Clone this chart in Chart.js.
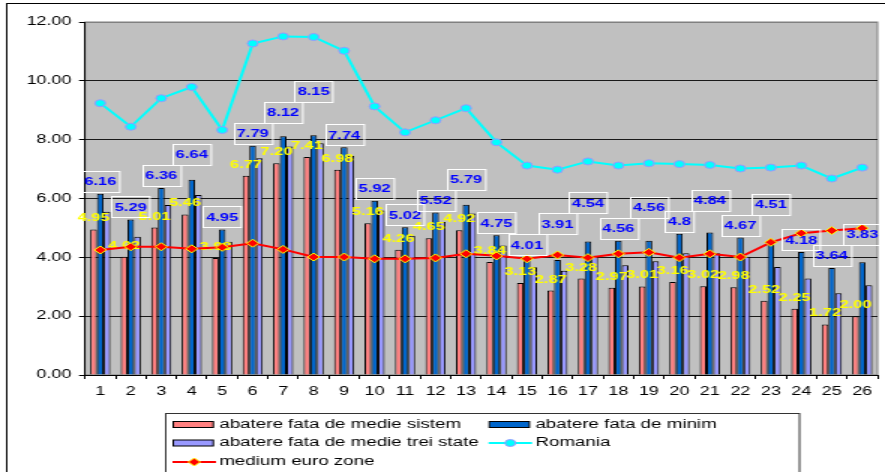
<!DOCTYPE html>
<html>
<head>
<meta charset="utf-8">
<script src="https://cdn.jsdelivr.net/npm/chart.js@4.4.0/dist/chart.umd.min.js"></script>
<style>
  html, body { margin: 0; padding: 0; background: #fff; overflow: hidden; }
  /* the original picture is stretched sideways, so draw narrow and stretch */
  #wrap { width: 590px; height: 472px; transform: scaleX(1.5); transform-origin: 0 0; }
</style>
</head>
<body>
<div id="wrap"><canvas id="chart" width="590" height="472"></canvas></div>
<script>
// Data
const categories = ['1','2','3','4','5','6','7','8','9','10','11','12','13','14','15','16','17','18','19','20','21','22','23','24','25','26'];
const sistem = [4.95, 4.02, 5.01, 5.46, 3.98, 6.77, 7.20, 7.41, 6.98, 5.16, 4.26, 4.65, 4.92, 3.84, 3.13, 2.87, 3.28, 2.97, 3.01, 3.16, 3.02, 2.98, 2.52, 2.25, 1.72, 2.00];
const minim = [6.16, 5.29, 6.36, 6.64, 4.95, 7.79, 8.12, 8.15, 7.74, 5.92, 5.02, 5.52, 5.79, 4.75, 4.01, 3.91, 4.54, 4.56, 4.56, 4.8, 4.84, 4.67, 4.51, 4.18, 3.64, 3.83];
const treiState = [5.55, 4.70, 5.78, 6.12, 4.53, 7.37, 7.77, 7.88, 7.45, 5.59, 4.73, 5.20, 5.49, 4.40, 3.66, 3.54, 4.05, 3.73, 3.87, 4.14, 4.14, 4.02, 3.67, 3.28, 2.78, 3.05];
const romania = [9.24, 8.44, 9.41, 9.79, 8.33, 11.27, 11.51, 11.49, 11.02, 9.13, 8.25, 8.66, 9.07, 7.91, 7.12, 6.98, 7.26, 7.12, 7.20, 7.17, 7.14, 7.02, 7.05, 7.12, 6.68, 7.05];
const euroZone = [4.25, 4.36, 4.36, 4.29, 4.34, 4.48, 4.27, 4.01, 4.01, 3.95, 3.95, 3.98, 4.12, 4.05, 3.95, 4.08, 3.99, 4.12, 4.17, 3.99, 4.12, 4.01, 4.51, 4.82, 4.91, 4.99];
const yTickLabels = ['0.00', '2.00', '4.00', '6.00', '8.00', '10.00', '12.00'];

const FONT = '"Liberation Sans", Arial, sans-serif';

// gray plot area + outer frame
const plotFrame = {
    id: 'plotFrame',
    beforeDraw(chart) {
        const { ctx, chartArea: a } = chart;
        ctx.save();
        ctx.strokeStyle = '#000';
        ctx.lineWidth = 1;
        ctx.strokeRect(4.5, 3.5, 700, 700);
        ctx.fillStyle = '#c0c0c0';
        ctx.fillRect(a.left, a.top, a.right - a.left, a.bottom - a.top);
        ctx.strokeStyle = '#808080';
        ctx.strokeRect(a.left, a.top, a.right - a.left, a.bottom - a.top);
        ctx.restore();
    }
};

// value labels: yellow over the first bars, boxed blue over the second bars
const valueLabels = {
    id: 'valueLabels',
    afterDatasetDraw(chart, args) {
        if (args.index !== 0) return; // bars are done, lines still to come
        const ctx = chart.ctx;
        ctx.save();
        ctx.font = 'bold 11px ' + FONT;
        ctx.fillStyle = '#ffff00';
        ctx.textAlign = 'center';
        ctx.textBaseline = 'alphabetic';
        chart.getDatasetMeta(0).data.forEach((bar, i) => {
            ctx.fillText(sistem[i].toFixed(2), bar.x, bar.y - 8);
        });
        ctx.restore();
    },
    afterDatasetsDraw(chart) {
        const ctx = chart.ctx;
        ctx.save();
        ctx.font = 'bold 11px ' + FONT;
        ctx.textAlign = 'center';
        ctx.textBaseline = 'middle';
        const h = 21;
        let prevTop = null, prevBottom = null;
        chart.getDatasetMeta(1).data.forEach((bar, i) => {
            const txt = String(minim[i]);
            const w = ctx.measureText(txt).width + 4;
            let bottom = bar.y - 2;
            // lift the box when it runs too far into the previous one
            if (prevTop !== null) {
                const overlap = Math.min(bottom, prevBottom) - Math.max(bottom - h, prevTop);
                if (overlap > 8) bottom = prevTop;
            }
            const top = bottom - h;
            ctx.strokeStyle = '#ffffff';
            ctx.lineWidth = 1;
            ctx.strokeRect(Math.round(bar.x - w / 2) + 0.5, Math.round(top) + 0.5, w, h);
            ctx.fillStyle = '#0000ff';
            ctx.fillText(txt, bar.x, top + h / 2 + 1);
            prevTop = top;
            prevBottom = bottom;
        });
        ctx.restore();
    }
};

// legend in a box under the chart
const boxLegend = {
    id: 'boxLegend',
    afterDraw(chart) {
        const ctx = chart.ctx;
        const cols = [115.5, 326.2];
        const rows = [424.5, 443, 462];
        ctx.save();
        ctx.strokeStyle = '#333';
        ctx.lineWidth = 1;
        ctx.strokeRect(110.5, 413.5, 422.5, 80);
        ctx.font = '12.5px ' + FONT;
        ctx.textBaseline = 'middle';
        chart.data.datasets.forEach((ds, i) => {
            const x = cols[i % 2];
            const y = rows[Math.floor(i / 2)];
            if (ds.type === 'bar') {
                ctx.fillStyle = ds.backgroundColor;
                ctx.fillRect(x, y - 3, 26.7, 6);
                ctx.strokeStyle = '#000';
                ctx.lineWidth = 1;
                ctx.strokeRect(x, y - 3, 26.7, 6);
            } else {
                ctx.strokeStyle = ds.borderColor;
                ctx.lineWidth = 2;
                ctx.beginPath();
                ctx.moveTo(x - 0.5, y);
                ctx.lineTo(x + 28.5, y);
                ctx.stroke();
                ctx.lineWidth = 1;
                ctx.fillStyle = ds.pointBackgroundColor;
                ctx.strokeStyle = ds.pointBorderColor;
                ctx.beginPath();
                if (ds.pointStyle === 'rectRot') {
                    const r = ds.pointRadius;
                    ctx.moveTo(x + 14, y - r);
                    ctx.lineTo(x + 14 + r, y);
                    ctx.lineTo(x + 14, y + r);
                    ctx.lineTo(x + 14 - r, y);
                    ctx.closePath();
                } else {
                    ctx.arc(x + 14, y, ds.pointRadius, 0, Math.PI * 2);
                }
                ctx.fill();
                ctx.stroke();
            }
            ctx.fillStyle = '#000';
            ctx.fillText(ds.label, x + 30.7, y);
        });
        ctx.restore();
    }
};

const ctx = document.getElementById('chart').getContext('2d');
new Chart(ctx, {
    data: {
        labels: categories,
        datasets: [
            {
                type: 'bar',
                label: 'abatere fata de medie sistem',
                data: sistem,
                backgroundColor: '#ff8080',
                borderColor: '#000',
                borderWidth: 1,
                categoryPercentage: 0.66,
                barPercentage: 1,
                order: 2
            },
            {
                type: 'bar',
                label: 'abatere fata de minim',
                data: minim,
                backgroundColor: '#0066cc',
                borderColor: '#000',
                borderWidth: 1,
                categoryPercentage: 0.66,
                barPercentage: 1,
                order: 2
            },
            {
                type: 'bar',
                label: 'abatere fata de medie trei state',
                data: treiState,
                backgroundColor: '#9999ff',
                borderColor: '#000',
                borderWidth: 1,
                categoryPercentage: 0.66,
                barPercentage: 1,
                order: 2
            },
            {
                type: 'line',
                label: 'Romania',
                data: romania,
                borderColor: '#00ffff',
                borderWidth: 2,
                pointRadius: 3.5,
                pointBackgroundColor: '#00ffff',
                pointBorderColor: '#9999ff',
                pointBorderWidth: 1,
                tension: 0,
                order: 1
            },
            {
                type: 'line',
                label: 'medium euro zone',
                data: euroZone,
                borderColor: '#ff0000',
                borderWidth: 2,
                pointStyle: 'rectRot',
                pointRadius: 4,
                pointBackgroundColor: '#ff0000',
                pointBorderColor: '#ffff00',
                pointBorderWidth: 1,
                tension: 0,
                order: 0
            }
        ]
    },
    options: {
        responsive: false,
        devicePixelRatio: 1,
        animation: false,
        layout: { padding: { top: 22, right: 1.5, left: 0, bottom: 0 } },
        plugins: {
            legend: { display: false },
            tooltip: { enabled: false }
        },
        scales: {
            x: {
                offset: true,
                grid: { display: true, drawOnChartArea: false, offset: true, tickLength: 4, color: '#000' },
                border: { color: '#000' },
                ticks: { color: '#000', font: { family: FONT, size: 12 }, padding: 5, maxRotation: 0, autoSkip: false },
                afterFit(scale) { scale.height = 97; }
            },
            y: {
                min: 0,
                max: 12,
                ticks: {
                    stepSize: 2,
                    color: '#000',
                    padding: 5,
                    font: { family: FONT, size: 12 },
                    callback: (v, i) => yTickLabels[i]
                },
                grid: {
                    tickLength: 4,
                    tickColor: '#000',
                    color: c => (c.tick && c.tick.value === 12 ? '#808080' : '#1a1a1a')
                },
                border: { color: '#000' },
                afterFit(scale) { scale.width = 56.7; }
            }
        }
    },
    plugins: [plotFrame, valueLabels, boxLegend]
});
</script>
</body>
</html>
